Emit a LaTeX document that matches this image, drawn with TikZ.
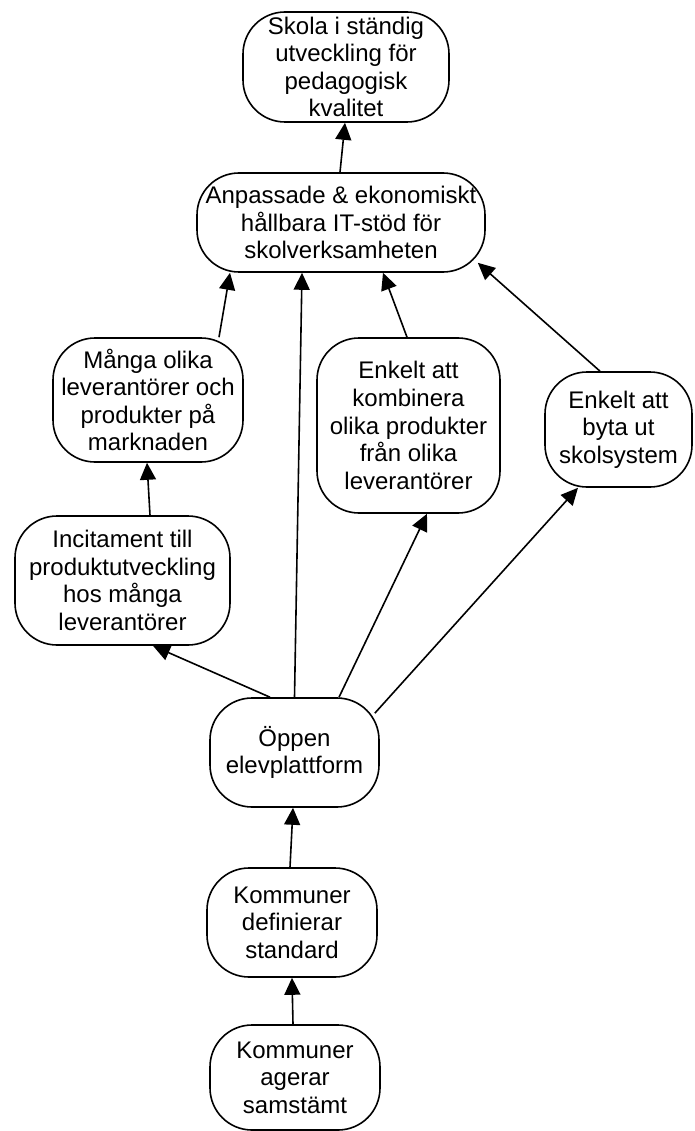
\documentclass[tikz,border=0pt]{standalone}
\usepackage{fontspec}
\setmainfont{Liberation Sans}
\usetikzlibrary{arrows.meta,calc}
\begin{document}
\begin{tikzpicture}[x=1pt,y=-1pt,
  box/.style={draw=black,line width=1.6pt,rounded corners=42pt,rectangle,
    inner sep=0pt,align=center,font=\fontsize{24}{27.6}\selectfont},
  conn/.style={line width=1.6pt,-{Triangle[length=17pt,width=16pt]}}]
\useasboundingbox (0,0) rectangle (694,1131);
\node[box,minimum width=206pt,minimum height=110pt] (top) at (346,67)
  {Skola i ständig\\utveckling för\\pedagogisk\\kvalitet};
\node[box,minimum width=288pt,minimum height=99pt] (it) at (341,222.5)
  {Anpassade \& ekonomiskt\\hållbara IT-stöd för\\skolverksamheten};
\node[box,minimum width=190pt,minimum height=124pt] (manga) at (148,400)
  {Många olika\\leverantörer och\\produkter på\\marknaden};
\node[box,minimum width=183pt,minimum height=175pt] (komb) at (408.5,425.5)
  {Enkelt att\\kombinera\\olika produkter\\från olika\\leverantörer};
\node[box,minimum width=147pt,minimum height=115pt] (byta) at (618.5,429.5)
  {Enkelt att\\byta ut\\skolsystem};
\node[box,minimum width=215pt,minimum height=129pt] (inc) at (122.5,580.5)
  {Incitament till\\produktutveckling\\hos många\\leverantörer};
\node[box,minimum width=169pt,minimum height=109pt] (oppen) at (294.5,752.5)
  {Öppen\\elevplattform};
\node[box,minimum width=170pt,minimum height=109pt] (def) at (292,922.5)
  {Kommuner\\definierar\\standard};
\node[box,minimum width=170pt,minimum height=105pt] (ager) at (295,1077.5)
  {Kommuner\\agerar\\samstämt};

\draw[conn] ($(it.north)+(-1,0)$) -- ($(top.south)+(-1,0)$);
\draw[conn] ($(manga.north)+(71,0)$) -- ($(it.south)+(-111,0)$);
\draw[conn] ($(oppen.north)+(0,0)$) -- ($(it.south)+(-39,0)$);
\draw[conn] ($(komb.north)+(-1.5,0)$) -- ($(it.south)+(42,0)$);
\draw[conn] ($(byta.north)+(-18.5,0)$) -- ($(it.south east)+(-8,-10)$);
\draw[conn] ($(inc.north)+(27.5,0)$) -- ($(manga.south)+(-1,0)$);
\draw[conn] ($(oppen.north)+(-24.5,0)$) -- ($(inc.south)+(30.5,0)$);
\draw[conn] ($(oppen.north)+(44.5,0)$) -- ($(komb.south)+(18.5,0)$);
\draw[conn] ($(oppen.north east)+(-5,16)$) -- ($(byta.south)+(-40.5,0)$);
\draw[conn] ($(def.north)+(-2,0)$) -- ($(oppen.south)+(-1.5,0)$);
\draw[conn] ($(ager.north)+(-2,0)$) -- ($(def.south)+(0,0)$);
\end{tikzpicture}
\end{document}
